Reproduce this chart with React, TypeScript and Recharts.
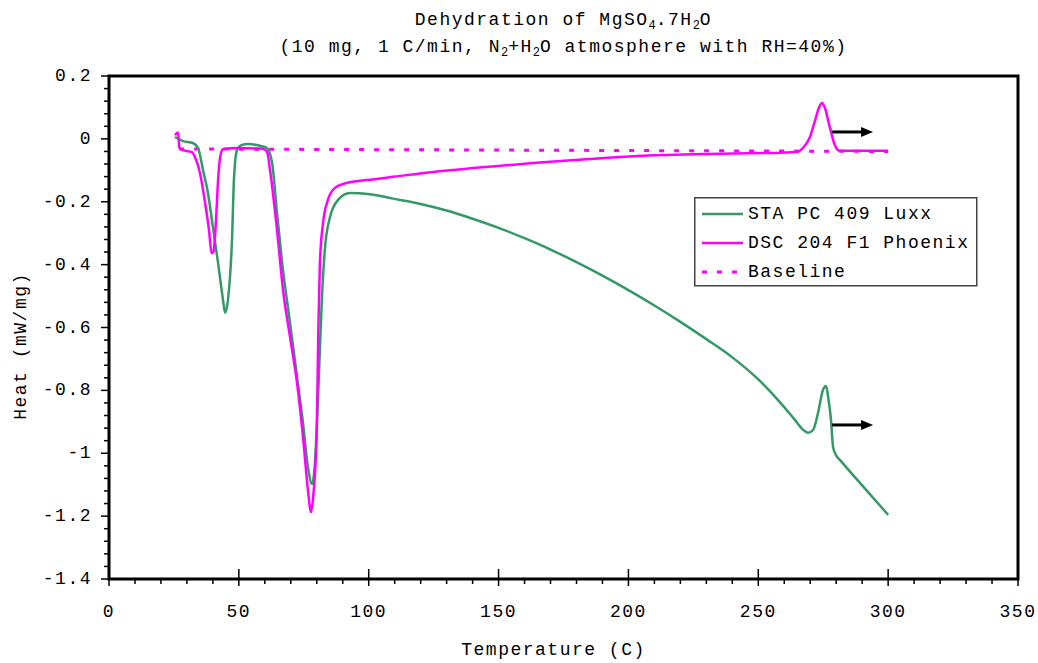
import React from 'react';
import { LineChart, Line, XAxis, YAxis, ReferenceArea, ReferenceLine } from 'recharts';

const FONT = '"Liberation Mono", "DejaVu Sans Mono", monospace';
const GREEN = '#339966';
const MAGENTA = '#ff00ff';

// ---- data ----
const staTemp = [25.4, 28.5, 32.3, 34.3, 36.2, 38.1, 40.0, 42.0, 43.9, 44.7, 45.8, 47.4, 48.1, 49.3, 51.2, 53.5, 58.1, 60.8, 62.8, 64.7, 67.0, 69.7, 72.4, 74.7, 76.6, 78.2, 79.3, 80.5, 82.0, 83.2, 85.1, 88.2, 92.8, 100.5, 109.4, 120, 130, 140, 150, 160, 170, 180, 190, 200, 210, 220, 230, 240, 250, 258.4, 264.0, 267.5, 269.2, 271.1, 273.0, 274.9, 276.1, 276.9, 278.0, 278.8, 280.0, 281.5, 290.0, 300.0];
const staHeat = [0.006, -0.007, -0.013, -0.029, -0.099, -0.172, -0.28, -0.395, -0.512, -0.553, -0.512, -0.312, -0.131, -0.035, -0.019, -0.016, -0.022, -0.029, -0.077, -0.236, -0.417, -0.585, -0.757, -0.904, -1.044, -1.098, -1.031, -0.82, -0.502, -0.344, -0.249, -0.194, -0.172, -0.176, -0.19, -0.207, -0.228, -0.254, -0.283, -0.316, -0.352, -0.392, -0.435, -0.481, -0.530, -0.582, -0.637, -0.695, -0.765, -0.838, -0.893, -0.927, -0.935, -0.926, -0.872, -0.799, -0.786, -0.821, -0.894, -0.980, -1.007, -1.022, -1.102, -1.196];

const dscTemp = [25.4, 26.6, 27.1, 28.5, 32.0, 33.1, 35.0, 37.0, 38.5, 39.5, 40.2, 41.2, 42.0, 43.1, 44.0, 50.0, 58.0, 60.0, 61.0, 62.0, 64.7, 67.0, 69.7, 72.4, 74.7, 76.6, 77.8, 78.6, 80.0, 80.6, 81.2, 82.4, 84.3, 87.0, 91.6, 99.3, 110, 124.8, 140, 163.3, 180, 201.8, 225, 251.8, 258.4, 265.0, 267.2, 269.9, 271.9, 273.4, 274.5, 275.6, 277.5, 279.5, 281.4, 290.3, 300.0];
const dscHeat = [0.012, 0.02, -0.028, -0.036, -0.042, -0.058, -0.108, -0.204, -0.29, -0.364, -0.36, -0.258, -0.131, -0.045, -0.032, -0.029, -0.031, -0.034, -0.045, -0.099, -0.29, -0.48, -0.63, -0.776, -0.948, -1.117, -1.187, -1.139, -0.926, -0.608, -0.395, -0.268, -0.194, -0.156, -0.140, -0.131, -0.120, -0.105, -0.093, -0.077, -0.067, -0.055, -0.049, -0.045, -0.044, -0.041, -0.029, 0.006, 0.060, 0.100, 0.114, 0.100, 0.038, -0.020, -0.038, -0.038, -0.038];

const baselineTemp = [27, 300];
const baselineHeat = [-0.032, -0.040];

// annotation arrows: [fromTemp, toTemp, heat]
const arrowFrom = [278.4, 278.4];
const arrowTo = [294.2, 294.2];
const arrowHeat = [0.022, -0.91];

const xMajorTicks = [0, 50, 100, 150, 200, 250, 300, 350];
const xMinorStep = 10;
const yMajorTicks = [-1.4, -1.2, -1.0, -0.8, -0.6, -0.4, -0.2, 0, 0.2];
const yTickLabels = ['-1.4', '-1.2', '-1', '-0.8', '-0.6', '-0.4', '-0.2', '0', '0.2'];
const yMinorStep = 0.04;

const legendNames = ['STA PC 409 Luxx', 'DSC 204 F1 Phoenix', 'Baseline'];
const legendColors = [GREEN, MAGENTA, MAGENTA];
const legendDashed = [false, false, true];

// ---- built tables ----
const staData = staTemp.map((t, i) => ({ t, h: staHeat[i] }));
const dscData = dscTemp.map((t, i) => ({ t, h: dscHeat[i] }));
const baseData = baselineTemp.map((t, i) => ({ t, h: baselineHeat[i] }));

const xTicksAll: number[] = [];
for (let i = 0; i < xMajorTicks.length - 1; i++) {
  for (let k = 0; k < 5; k++) xTicksAll.push(xMajorTicks[i] + k * xMinorStep);
}
xTicksAll.push(xMajorTicks[xMajorTicks.length - 1]);

const yTicksAll: number[] = [];
for (let i = 0; i < yMajorTicks.length - 1; i++) {
  for (let k = 0; k < 5; k++) yTicksAll.push(Math.round((yMajorTicks[i] + k * yMinorStep) * 1000) / 1000);
}
yTicksAll.push(yMajorTicks[yMajorTicks.length - 1]);

const isXMajor = (v: number) => xMajorTicks.some((m) => Math.abs(m - v) < 1e-6);
const yMajorIndex = (v: number) => yMajorTicks.findIndex((m) => Math.abs(m - v) < 1e-6);

const textStyle = { fontFamily: FONT, fontSize: 18, letterSpacing: 1.5, fill: '#000' } as const;

const XTick = (props: any) => {
  const { x, y, payload } = props;
  const major = isXMajor(payload.value);
  return (
    <g>
      <line x1={x} x2={x} y1={major ? y - 10 : y} y2={y + (major ? 7 : 5)} stroke="#000" strokeWidth={1.5} />
      {major && (
        <text x={x} y={y + 33} textAnchor="middle" dominantBaseline="central" style={textStyle}>
          {payload.value}
        </text>
      )}
    </g>
  );
};

const YTick = (props: any) => {
  const { x, y, payload } = props;
  const idx = yMajorIndex(payload.value);
  const major = idx >= 0;
  return (
    <g>
      <line x1={x - (major ? 8 : 5)} x2={x} y1={y} y2={y} stroke="#000" strokeWidth={1.5} />
      {major && (
        <text x={x - 17} y={y} textAnchor="end" dominantBaseline="central" style={textStyle}>
          {yTickLabels[idx]}
        </text>
      )}
    </g>
  );
};

const Arrow = (props: any) => {
  const { x1, y1, x2, y2 } = props;
  const head = 12;
  return (
    <g>
      <line x1={x1} y1={y1} x2={x2 - head + 1} y2={y2} stroke="#000" strokeWidth={3} />
      <polygon points={`${x2},${y2} ${x2 - head},${y2 - 5} ${x2 - head},${y2 + 5}`} fill="#000" />
    </g>
  );
};

const XLabel = (props: any) => {
  const { viewBox } = props;
  return (
    <text x={viewBox.x + viewBox.width / 2 - 10} y={650} textAnchor="middle" dominantBaseline="central" style={textStyle}>
      Temperature (C)
    </text>
  );
};

const YLabel = () => (
  <text x={21} y={346} textAnchor="middle" dominantBaseline="central" transform="rotate(-90 21 346)" style={textStyle}>
    {'Heat  (mW/mg)'}
  </text>
);

const subStyle: React.CSSProperties = { fontSize: 12, verticalAlign: '-4px', lineHeight: 0, letterSpacing: 0 };

export default function App() {
  return (
    <div style={{ position: 'absolute', left: 0, top: 0, width: 1038, height: 663, background: '#fff' }}>
      <div
        style={{
          position: 'absolute',
          left: 109,
          top: 7,
          width: 909,
          textAlign: 'center',
          fontFamily: FONT,
          fontSize: 18,
          letterSpacing: 1.5,
          lineHeight: '27px',
          color: '#000',
        }}
      >
        <div>
          Dehydration of MgSO<span style={subStyle}>4</span>.7H<span style={subStyle}>2</span>O
        </div>
        <div>
          (10 mg, 1 C/min, N<span style={subStyle}>2</span>+H<span style={subStyle}>2</span>O atmosphere with RH=40%)
        </div>
      </div>
      <LineChart width={1038} height={663} margin={{ top: 76, right: 20, bottom: 44, left: 9 }}>
        <XAxis
          type="number"
          dataKey="t"
          domain={[0, 350]}
          ticks={xTicksAll}
          interval={0}
          tick={XTick}
          tickLine={false}
          axisLine={false}
          tickSize={0}
          tickMargin={0}
          height={40}
          allowDataOverflow
          label={{ content: XLabel }}
        />
        <YAxis
          type="number"
          dataKey="h"
          domain={[-1.4, 0.2]}
          ticks={yTicksAll}
          interval={0}
          tick={YTick}
          tickLine={false}
          axisLine={false}
          tickSize={0}
          tickMargin={0}
          width={100}
          allowDataOverflow
          label={{ content: YLabel }}
        />
        <ReferenceArea x1={0} x2={350} y1={-1.4} y2={0.2} fill="none" stroke="#000" strokeWidth={3} fillOpacity={0} />
        <Line data={baseData} dataKey="h" type="linear" stroke={MAGENTA} strokeWidth={3} strokeDasharray="5 10" dot={false} isAnimationActive={false} />
        <Line data={staData} dataKey="h" type="monotoneX" stroke={GREEN} strokeWidth={2.5} dot={false} isAnimationActive={false} />
        <Line data={dscData} dataKey="h" type="monotoneX" stroke={MAGENTA} strokeWidth={2.5} dot={false} isAnimationActive={false} />
        {arrowHeat.map((h, i) => (
          <ReferenceLine
            key={i}
            segment={[{ x: arrowFrom[i], y: h }, { x: arrowTo[i], y: h }]}
            shape={Arrow}
            stroke="#000"
          />
        ))}
      </LineChart>
      <div style={{ position: 'absolute', left: 694, top: 197 }}>
        <svg width={284} height={90}>
          <rect x={0.75} y={0.75} width={282} height={88} fill="#fff" stroke="#444" strokeWidth={1.5} />
          {legendNames.map((name, i) => {
            const cy = 17 + i * 29;
            return (
              <g key={name}>
                <line
                  x1={8}
                  x2={49}
                  y1={cy}
                  y2={cy}
                  stroke={legendColors[i]}
                  strokeWidth={legendDashed[i] ? 3 : 2.5}
                  strokeDasharray={legendDashed[i] ? '5 10' : undefined}
                />
                <text x={54} y={cy} dominantBaseline="central" style={textStyle}>
                  {name}
                </text>
              </g>
            );
          })}
        </svg>
      </div>
    </div>
  );
}
